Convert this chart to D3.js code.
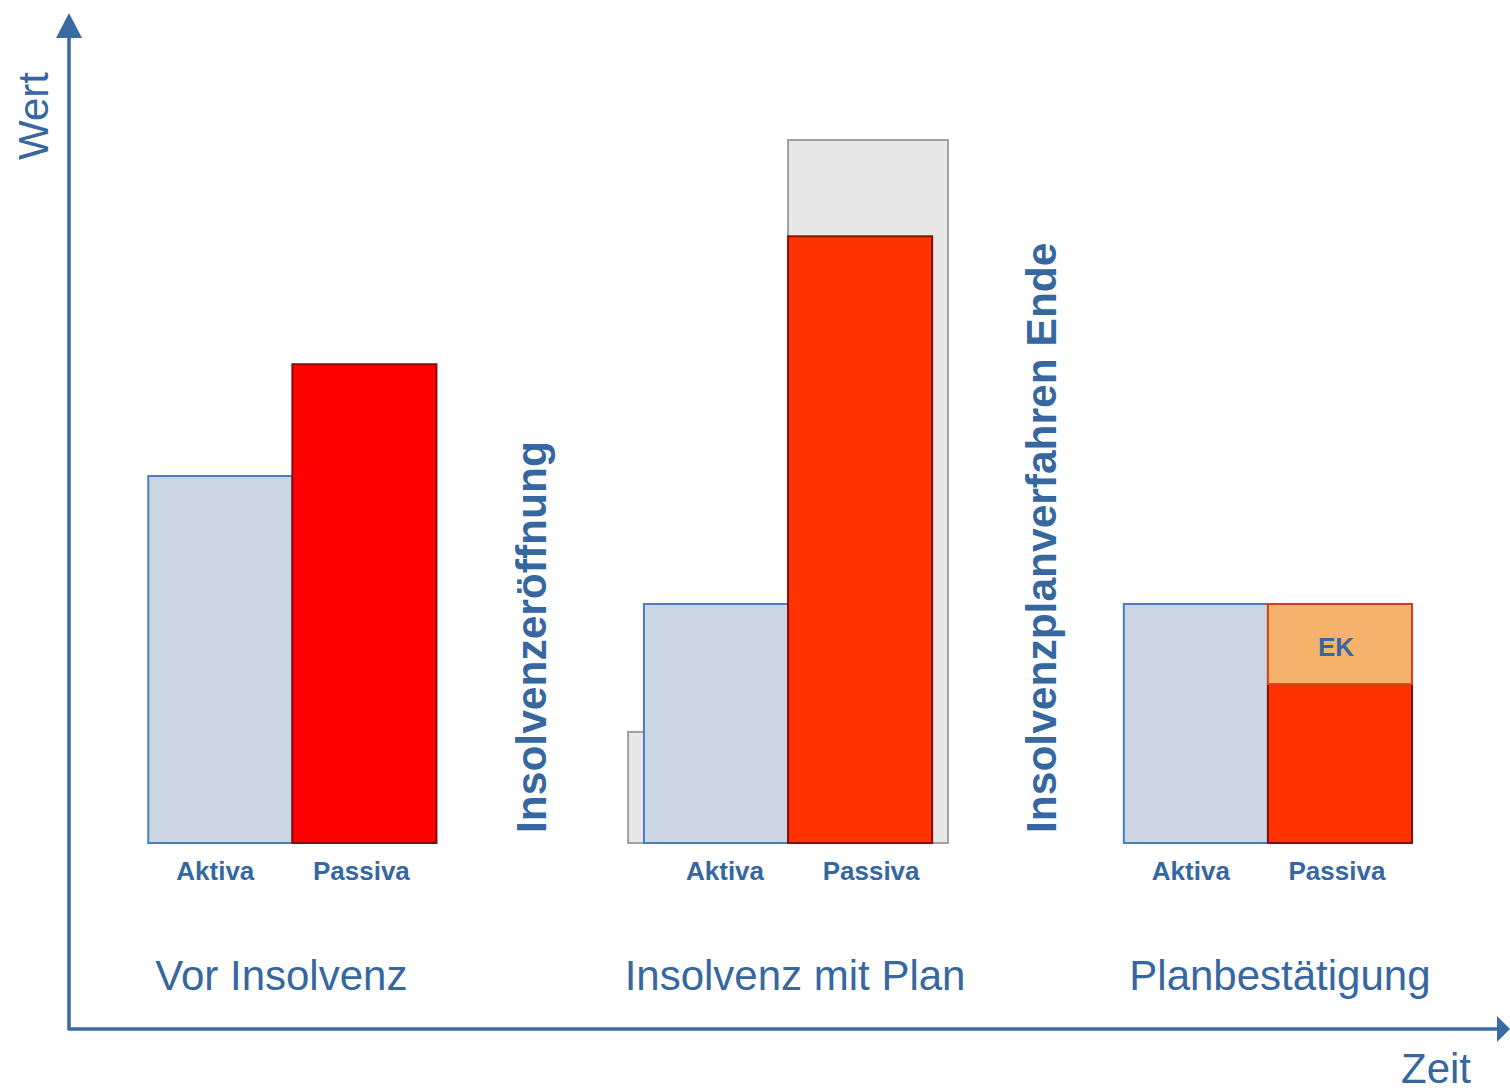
<!DOCTYPE html>
<html>
<head>
<meta charset="utf-8">
<script src="https://cdn.jsdelivr.net/npm/d3@7"></script>
<style>
  html, body { margin: 0; padding: 0; background: #fff; }
  svg { display: block; font-family: "Liberation Sans", Arial, sans-serif; }
</style>
</head>
<body>
<svg id="chart" width="1510" height="1091"></svg>
<script>
// phases along the time axis
const phases = ["Vor Insolvenz", "Insolvenz mit Plan", "Planbestätigung"];
const phaseT = [1.55, 4.99, 8.32];
// balance values (relative units)
const aktiva = [52.2, 34, 34];
const passiva = [68.1, 86.3, 22.6];
const eigenkapital = [0, 0, 11.4];
const ghostAktiva = [0, 15.8, 0];
const ghostPassiva = [0, 100, 0];
const passivaFill = ["#FF0000", "#FF3300", "#FF3300"];
// events between phases
const events = ["Insolvenzeröffnung", "Insolvenzplanverfahren Ende"];
const eventT = [3.31, 6.85];

const C = {
  blue: "#36679F",
  axis: "#3A6AA3",
  aktFill: "#CCD6E2",
  aktStroke: "#4A7EBB",
  pasStroke: "#8C0A0A",
  ghostFill: "#E8E8E8",
  ghostStroke: "#A0A0A0",
  ekFill: "#F4B26A",
  ekStroke: "#D5401C"
};

const svg = d3.select("#chart");
const x = d3.scaleLinear().domain([0, 10]).range([69, 1510]);
const y = d3.scaleLinear().domain([0, 100]).range([843, 140]);
const bw = x(1) - x(0);
const ghostW = x(1.11) - x(0);
// small hand nudges for label placement, per phase
const barLabelShift = [0, 14, 0];
const phaseLabelShift = [-11, 7, 12];

const ox = 69, oy = 1029;

// axes with arrowheads
svg.append("line").attr("x1", ox).attr("y1", oy + 1).attr("x2", ox).attr("y2", 36)
  .attr("stroke", C.axis).attr("stroke-width", 3.5);
svg.append("path").attr("d", `M${ox},13L${ox + 13},38L${ox - 13},38Z`).attr("fill", C.axis);
svg.append("line").attr("x1", ox - 1).attr("y1", oy).attr("x2", 1498).attr("y2", oy)
  .attr("stroke", C.axis).attr("stroke-width", 3.5);
svg.append("path").attr("d", `M1510,${oy}L1497,${oy - 13}L1497,${oy + 13}Z`).attr("fill", C.axis);

svg.append("text").attr("transform", "translate(48,160) rotate(-90)")
  .attr("fill", C.blue).attr("font-size", "42px").text("Wert");
svg.append("text").attr("x", 1401).attr("y", 1083)
  .attr("fill", C.blue).attr("font-size", "42px").text("Zeit");

const g = svg.append("g");
const idx = d3.range(phases.length);

// ghost bars (previous state)
g.selectAll(".ghost-a").data(idx.filter(i => ghostAktiva[i] > 0)).enter().append("rect")
  .attr("x", i => x(phaseT[i]) - ghostW).attr("y", i => y(ghostAktiva[i]))
  .attr("width", ghostW).attr("height", i => y(0) - y(ghostAktiva[i]))
  .attr("fill", C.ghostFill).attr("stroke", C.ghostStroke).attr("stroke-width", 2);
g.selectAll(".ghost-p").data(idx.filter(i => ghostPassiva[i] > 0)).enter().append("rect")
  .attr("x", i => x(phaseT[i])).attr("y", i => y(ghostPassiva[i]))
  .attr("width", ghostW).attr("height", i => y(0) - y(ghostPassiva[i]))
  .attr("fill", C.ghostFill).attr("stroke", C.ghostStroke).attr("stroke-width", 2);

// aktiva
g.selectAll(".akt").data(idx).enter().append("rect")
  .attr("x", i => x(phaseT[i]) - bw).attr("y", i => y(aktiva[i]))
  .attr("width", bw).attr("height", i => y(0) - y(aktiva[i]))
  .attr("fill", C.aktFill).attr("stroke", C.aktStroke).attr("stroke-width", 2);

// passiva (debt)
g.selectAll(".pas").data(idx).enter().append("rect")
  .attr("x", i => x(phaseT[i])).attr("y", i => y(passiva[i]))
  .attr("width", bw).attr("height", i => y(0) - y(passiva[i]))
  .attr("fill", i => passivaFill[i]).attr("stroke", C.pasStroke).attr("stroke-width", 2);

// equity on top of passiva
const ekIdx = idx.filter(i => eigenkapital[i] > 0);
g.selectAll(".ek").data(ekIdx).enter().append("rect")
  .attr("x", i => x(phaseT[i])).attr("y", i => y(passiva[i] + eigenkapital[i]))
  .attr("width", bw).attr("height", i => y(passiva[i]) - y(passiva[i] + eigenkapital[i]))
  .attr("fill", C.ekFill).attr("stroke", C.ekStroke).attr("stroke-width", 2);
g.selectAll(".ek-t").data(ekIdx).enter().append("text")
  .attr("x", i => x(phaseT[i]) + bw / 2 - 4).attr("y", i => y(passiva[i] + eigenkapital[i] / 2) + 12)
  .attr("text-anchor", "middle").attr("fill", C.blue)
  .attr("font-size", "26px").attr("font-weight", "700").text("EK");

// bar labels
g.selectAll(".l-a").data(idx).enter().append("text")
  .attr("x", i => x(phaseT[i]) - bw / 2 - 5 + barLabelShift[i]).attr("y", 880)
  .attr("text-anchor", "middle").attr("fill", C.blue)
  .attr("font-size", "26px").attr("font-weight", "700").text("Aktiva");
g.selectAll(".l-p").data(idx).enter().append("text")
  .attr("x", i => x(phaseT[i]) + bw / 2 - 3 + barLabelShift[i]).attr("y", 880)
  .attr("text-anchor", "middle").attr("fill", C.blue)
  .attr("font-size", "26px").attr("font-weight", "700").text("Passiva");

// phase labels
g.selectAll(".phase").data(idx).enter().append("text")
  .attr("x", i => x(phaseT[i]) + phaseLabelShift[i]).attr("y", 990)
  .attr("text-anchor", "middle").attr("fill", C.blue)
  .attr("font-size", "42px").text(i => phases[i]);

// event labels (vertical)
g.selectAll(".event").data(events).enter().append("text")
  .attr("transform", (d, i) => `translate(${x(eventT[i])},833) rotate(-90)`)
  .attr("fill", C.blue).attr("font-size", "42.5px").attr("font-weight", "700")
  .text(d => d);
</script>
</body>
</html>
